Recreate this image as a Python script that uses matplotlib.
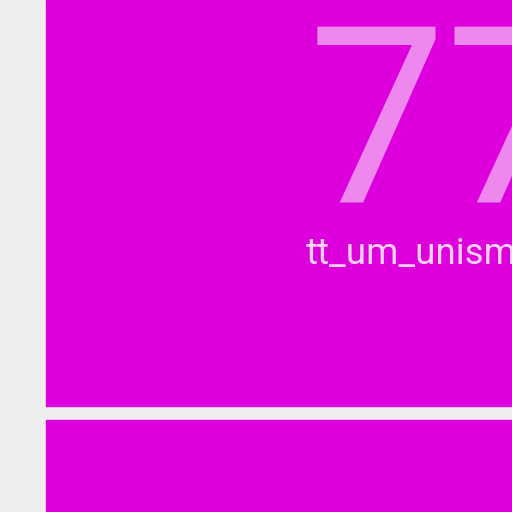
import matplotlib
matplotlib.use("Agg")
import matplotlib.pyplot as plt
from matplotlib.patches import Rectangle

values = [77]
labels = ["tt_um_unismart"]

fig = plt.figure(figsize=(5.12, 5.12), dpi=100)
fig.patch.set_facecolor("#eeeeee")
ax = fig.add_axes([0, 0, 1, 1])
ax.set_xlim(0, 512)
ax.set_ylim(512, 0)
ax.axis("off")
ax.add_patch(Rectangle((46, 0), 600, 406, color="#dd00dd"))
ax.add_patch(Rectangle((46, 420), 600, 200, color="#dd00dd"))
ax.text(308, 201, str(values[0]), color="#ee88ee", fontsize=177,
        family=["Roboto", "DejaVu Sans"], ha="left", va="baseline")
ax.text(306, 264, labels[0], color="#f8d0f8", fontsize=26.5,
        family=["Roboto", "DejaVu Sans"], ha="left", va="baseline")
fig.savefig("out.png", dpi=100, facecolor=fig.get_facecolor())
